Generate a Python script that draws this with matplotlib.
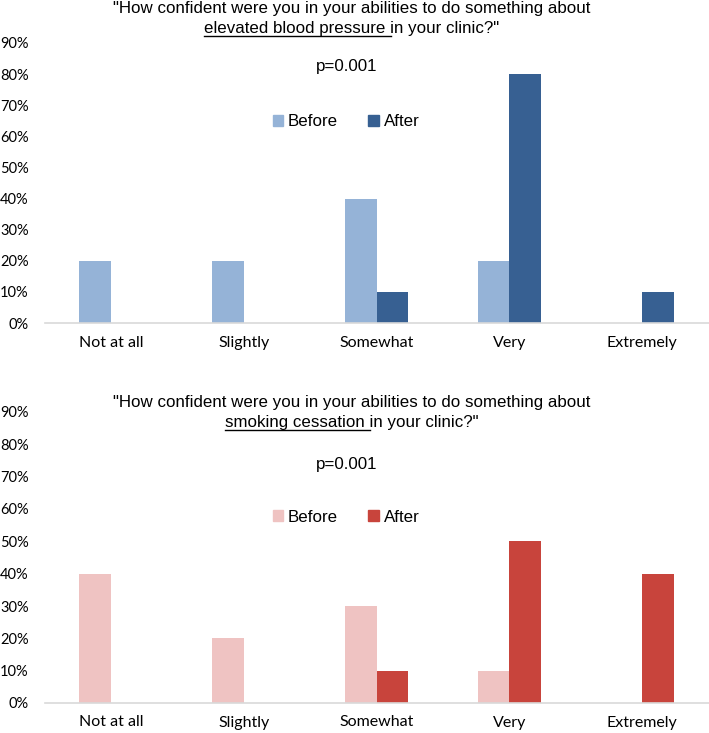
import numpy as np
import matplotlib
matplotlib.use('Agg')
import matplotlib.pyplot as plt
from matplotlib.lines import Line2D
from matplotlib.patches import Patch

categories = ['Not at all', 'Slightly', 'Somewhat', 'Very', 'Extremely']
bp_before = [0.20, 0.20, 0.40, 0.20, 0.00]
bp_after = [0.00, 0.00, 0.10, 0.80, 0.10]
sm_before = [0.40, 0.20, 0.30, 0.10, 0.00]
sm_after = [0.00, 0.00, 0.10, 0.50, 0.40]
yticks = [0.0, 0.1, 0.2, 0.3, 0.4, 0.5, 0.6, 0.7, 0.8, 0.9]
ytick_labels = ['0%', '10%', '20%', '30%', '40%', '50%', '60%', '70%', '80%', '90%']

W, H = 709, 733
fig = plt.figure(figsize=(W / 100, H / 100), dpi=100)

TITLE_FONT = 'Liberation Sans'
TICK_FONT = 'Lato'


def px(x, y):
    # pixel position (from top-left) -> figure fraction
    return x / W, 1 - y / H


def draw_panel(rect, before, after, c_before, c_after, topic, y_title, y_p, y_leg):
    ax = fig.add_axes(rect)
    x = np.arange(len(categories))
    w = 0.24
    ax.bar(x - w / 2, before, w, color=c_before, label='Before')
    ax.bar(x + w / 2, after, w, color=c_after, label='After')
    ax.set_xlim(-0.5, len(categories) - 0.5)
    ax.set_ylim(0, 0.9)
    ax.set_yticks(yticks)
    ax.set_yticklabels(ytick_labels, fontfamily=TICK_FONT, fontsize=10.5)
    ax.set_xticks(x)
    ax.set_xticklabels(categories, fontfamily=TICK_FONT, fontsize=11.5)
    ax.tick_params(axis='both', length=0)
    ax.tick_params(axis='y', pad=11.5)
    ax.tick_params(axis='x', pad=9)
    for s in ['top', 'right', 'left']:
        ax.spines[s].set_visible(False)
    ax.spines['bottom'].set_color('#D9D9D9')
    ax.spines['bottom'].set_linewidth(1.2)

    # title, two lines, first part of line 2 underlined
    cx = 352
    fig.text(*px(cx, y_title), '"How confident were you in your abilities to do something about',
             ha='center', va='center', fontsize=12.2, fontfamily=TITLE_FONT)
    line2 = topic + ' in your clinic?"'
    t2 = fig.text(*px(cx, y_title + 21), line2, ha='center', va='center',
                  fontsize=12.2, fontfamily=TITLE_FONT)
    fig.canvas.draw()
    r = fig.canvas.get_renderer()
    bb = t2.get_window_extent(r)
    tmp = fig.text(0, 0, topic + ' ', fontsize=12.2, fontfamily=TITLE_FONT)
    pw = tmp.get_window_extent(r).width
    tmp.remove()
    uy = bb.y0 + 1
    fig.add_artist(Line2D([bb.x0 / W, (bb.x0 + pw) / W], [uy / H, uy / H],
                          color='black', linewidth=1.0))

    fig.text(*px(347, y_p), 'p=0.001', ha='center', va='center',
             fontsize=12.2, fontfamily=TITLE_FONT)

    handles = [Patch(color=c_before, label='Before'), Patch(color=c_after, label='After')]
    fig.legend(handles=handles, loc='center', bbox_to_anchor=px(346, y_leg), ncol=2,
               frameon=False, prop={'family': TITLE_FONT, 'size': 12.2},
               handlelength=0.6, handleheight=0.6, handletextpad=0.3, columnspacing=1.8)
    return ax


# top panel: 0% at y=323, 90% at y=43
draw_panel([44.6 / W, 1 - 323 / H, 664 / W, 280 / H], bp_before, bp_after,
           '#95B3D7', '#376092', 'elevated blood pressure', 8, 67, 122)
# bottom panel: 0% at y=703, 90% at y=412
draw_panel([44.6 / W, 1 - 703 / H, 664 / W, 291 / H], sm_before, sm_after,
           '#EFC3C2', '#C8443C', 'smoking cessation', 402, 464, 517)

fig.savefig('out.png', dpi=100)
